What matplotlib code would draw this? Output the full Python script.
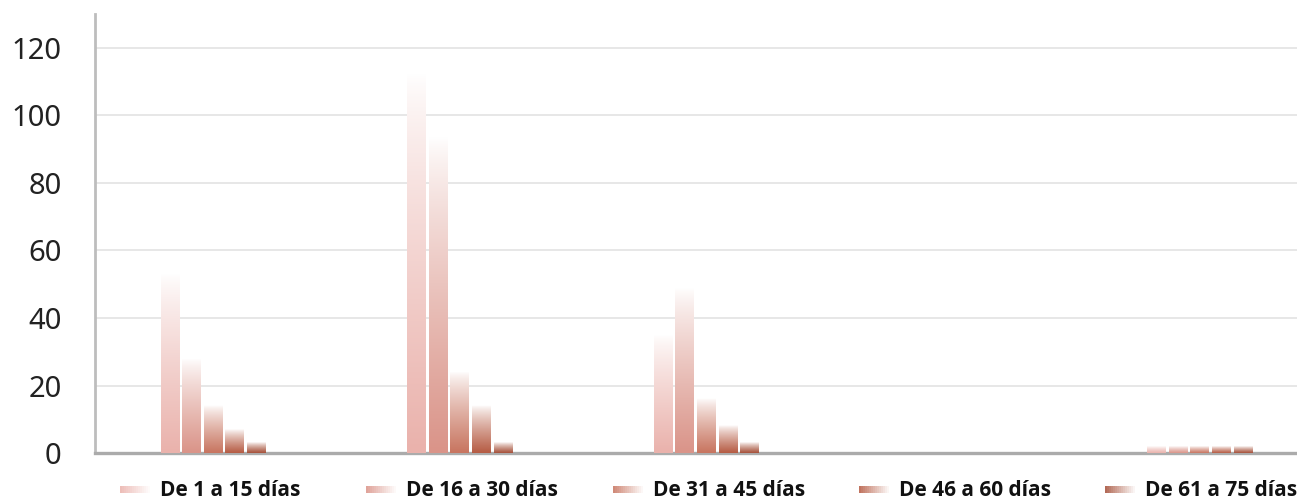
import numpy as np
import matplotlib.pyplot as plt
from matplotlib.colors import to_rgb
from matplotlib.patches import Rectangle

plt.rcParams['font.family'] = ['Noto Sans', 'DejaVu Sans']

groups = ["Grupo 1", "Grupo 2", "Grupo 3", "Grupo 4", "Grupo 5"]
series = ["De 1 a 15 días", "De 16 a 30 días", "De 31 a 45 días",
          "De 46 a 60 días", "De 61 a 75 días"]
# values per series (one per group)
d_1_15 = [53, 113, 35, 0, 2]
d_16_30 = [28, 94, 49, 0, 2]
d_31_45 = [14, 24, 16, 0, 2]
d_46_60 = [7, 14, 8, 0, 2]
d_61_75 = [3, 3, 3, 0, 2]
values = [d_1_15, d_16_30, d_31_45, d_46_60, d_61_75]
colors = ['#EAB2AC', '#DA9489', '#C87560', '#B65C44', '#A6513A']


def vgrad(color, n=64):
    c = np.array(to_rgb(color))
    t = np.linspace(0, 1, n)[:, None]  # 0 = top, 1 = bottom
    t = t ** 0.8
    rgb = (1 - t) * np.array([1.0, 1.0, 1.0]) * 0.98 + t * c
    rgb = np.clip(rgb + (1 - t) * 0.02, 0, 1)
    return rgb[:, None, :]


fig = plt.figure(figsize=(12.97, 4.99), dpi=100)
ax = fig.add_axes([0.0732, 0.092, 0.9268, 0.880])

x = np.arange(len(groups))
step = 0.0876
width = 0.077
for i, (vals, col) in enumerate(zip(values, colors)):
    img = vgrad(col)
    for xi, v in zip(x, vals):
        if v <= 0:
            continue
        x0 = xi + (i - 2) * step - width / 2
        ax.imshow(img, extent=(x0, x0 + width, 0, v), aspect='auto',
                  interpolation='bilinear', zorder=3)

ax.set_xlim(-0.48, 4.394)
ax.set_ylim(0, 130)
ax.set_yticks(range(0, 121, 20))
ax.set_xticks([])
ax.grid(axis='y', color='#e3e3e3', linewidth=1.2, zorder=0)
ax.set_axisbelow(True)
ax.tick_params(axis='y', length=0, pad=24, labelsize=21, labelcolor='#222222')
for s in ['top', 'right']:
    ax.spines[s].set_visible(False)
ax.spines['left'].set_color('#bdbdbd')
ax.spines['left'].set_linewidth(2)
ax.spines['bottom'].set_color('#ababab')
ax.spines['bottom'].set_linewidth(2.4)

# legend with horizontal gradient swatches
W, H = 1297, 499
for i, (lab, col) in enumerate(zip(series, colors)):
    px = 120 + i * 246.3
    c = np.array(to_rgb(col))
    n = 16
    for k in range(n):
        t = k / (n - 1)
        rgb = (1 - t) * (0.85 * c + 0.15) + t * np.array([1, 1, 1])
        fig.patches.append(Rectangle(((px + k * 32 / n) / W, (H - 493) / H),
                                     (32 / n + 0.3) / W, 7 / H,
                                     transform=fig.transFigure,
                                     facecolor=rgb, edgecolor='none'))
    fig.text((px + 40) / W, (H - 491) / H, lab, fontsize=15,
             fontweight='bold', family=['Open Sans', 'DejaVu Sans'],
             color='#111111', va='center', ha='left')

fig.savefig('out.png', dpi=100)
